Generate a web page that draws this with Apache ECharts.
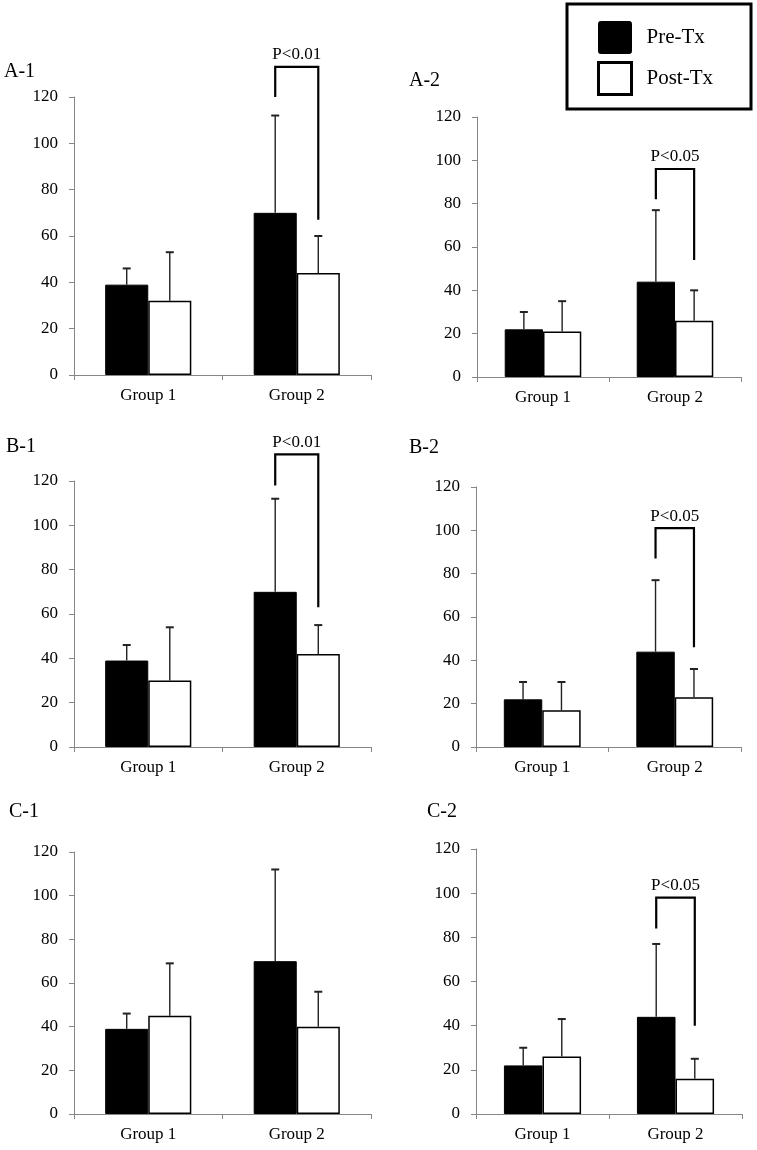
<!DOCTYPE html>
<html><head><meta charset="utf-8">
<script src="https://cdn.jsdelivr.net/npm/echarts@6/dist/echarts.min.js"></script>
<style>html,body{margin:0;padding:0;background:#fff}#c{width:757px;height:1150px}</style>
</head><body><div id="c"></div>
<script>
// ---- data ----
const categories = ['Group 1', 'Group 2'];
const seriesNames = ['Pre-Tx', 'Post-Tx'];
const panelLabels = ['A-1', 'A-2', 'B-1', 'B-2', 'C-1', 'C-2'];
const yMin = 0, yMax = 120, yStep = 20;

const preA1 = [39, 70],  preA1Top = [46, 112],  postA1 = [32, 44], postA1Top = [53, 60];
const preA2 = [22, 44],  preA2Top = [30, 77],   postA2 = [21, 26], postA2Top = [35, 40];
const preB1 = [39, 70],  preB1Top = [46, 112],  postB1 = [30, 42], postB1Top = [54, 55];
const preB2 = [22, 44],  preB2Top = [30, 77],   postB2 = [17, 23], postB2Top = [30, 36];
const preC1 = [39, 70],  preC1Top = [46, 112],  postC1 = [45, 40], postC1Top = [69, 56];
const preC2 = [22, 44],  preC2Top = [30, 77],   postC2 = [26, 16], postC2Top = [43, 25];

// significance brackets: [category index, left foot, right foot, top, label]
const sigA1 = [1, 120, 67, 133, 'P<0.01'];
const sigA2 = [1, 82, 54, 96, 'P<0.05'];
const sigB1 = [1, 118, 63, 132, 'P<0.01'];
const sigB2 = [1, 87, 46, 101, 'P<0.05'];
const sigC1 = null;
const sigC2 = [1, 84, 40, 98, 'P<0.05'];

const panelData = [
  [preA1, preA1Top, postA1, postA1Top, sigA1],
  [preA2, preA2Top, postA2, postA2Top, sigA2],
  [preB1, preB1Top, postB1, postB1Top, sigB1],
  [preB2, preB2Top, postB2, postB2Top, sigB2],
  [preC1, preC1Top, postC1, postC1Top, sigC1],
  [preC2, preC2Top, postC2, postC2Top, sigC2]
];

// ---- layout ----
const layouts = [
  {left: 74,  top: 97,  width: 297, height: 278, tl: 4,   tt: 62},
  {left: 477, top: 117, width: 264, height: 260, tl: 409, tt: 71},
  {left: 74,  top: 481, width: 297, height: 266, tl: 6,   tt: 437},
  {left: 476, top: 487, width: 265, height: 260, tl: 409, tt: 438},
  {left: 74,  top: 852, width: 297, height: 262, tl: 9,   tt: 802},
  {left: 476, top: 849, width: 266, height: 265, tl: 427, tt: 802}
];

const FONT = '"Liberation Serif", "Times New Roman", serif';
const BAR_FRAC = 0.29;

function errRender(side) {
  return function (params, api) {
    const cat = api.value(0), v = api.value(1), top = api.value(2);
    const band = api.size([1, 0])[0];
    const off = (side === 0 ? -1 : 1) * band * BAR_FRAC / 2;
    const p0 = api.coord([cat, v]);
    const p1 = api.coord([cat, top]);
    const x = p0[0] + off;
    return {
      type: 'group',
      children: [
        {type: 'line', shape: {x1: x, y1: p0[1], x2: x, y2: p1[1]}, style: {stroke: '#222', lineWidth: 1.4}},
        {type: 'line', shape: {x1: x - 4, y1: p1[1], x2: x + 4, y2: p1[1]}, style: {stroke: '#222', lineWidth: 2}}
      ]
    };
  };
}

function sigRender(params, api) {
  const cat = api.value(0);
  const band = api.size([1, 0])[0];
  const off = band * BAR_FRAC / 2;
  const c = api.coord([cat, 0]);
  const xl = c[0] - off, xr = c[0] + off;
  const yl = api.coord([cat, api.value(1)])[1];
  const yr = api.coord([cat, api.value(2)])[1];
  const yt = api.coord([cat, api.value(3)])[1];
  return {
    type: 'group',
    children: [
      {type: 'polyline', shape: {points: [[xl, yl], [xl, yt], [xr, yt], [xr, yr]]},
       style: {stroke: '#000', lineWidth: 2.2, fill: null}},
      {type: 'text', style: {text: api.value(4), x: (xl + xr) / 2, y: yt - 12, align: 'center',
        verticalAlign: 'middle', fontSize: 17, fontFamily: FONT, fill: '#000'}}
    ]
  };
}

const grid = [], xAxis = [], yAxis = [], series = [], title = [];
layouts.forEach(function (L, i) {
  grid.push({left: L.left, top: L.top, width: L.width, height: L.height, containLabel: false});
  title.push({text: panelLabels[i], left: L.tl, top: L.tt, padding: 0,
    textStyle: {fontFamily: FONT, fontSize: 20, fontWeight: 'normal', color: '#000'}});
  xAxis.push({type: 'category', gridIndex: i, data: categories,
    axisLine: {lineStyle: {color: '#868686', width: 1}},
    axisTick: {show: true, length: 5, lineStyle: {color: '#868686'}},
    axisLabel: {fontFamily: FONT, fontSize: 17, color: '#000', margin: 12},
    splitLine: {show: false}});
  yAxis.push({type: 'value', gridIndex: i, min: yMin, max: yMax, interval: yStep,
    axisLine: {show: true, lineStyle: {color: '#868686', width: 1}},
    axisTick: {show: true, length: 5, lineStyle: {color: '#868686'}},
    axisLabel: {fontFamily: FONT, fontSize: 17, color: '#000', margin: 16},
    splitLine: {show: false}});
  const d = panelData[i];
  series.push({type: 'bar', name: seriesNames[0], xAxisIndex: i, yAxisIndex: i, data: d[0],
    barWidth: (BAR_FRAC * 100) + '%', barGap: '0%',
    itemStyle: {color: '#000', borderColor: '#000', borderWidth: 1}, silent: true, z: 2});
  series.push({type: 'bar', name: seriesNames[1], xAxisIndex: i, yAxisIndex: i, data: d[2],
    barWidth: (BAR_FRAC * 100) + '%', barGap: '0%',
    itemStyle: {color: '#fff', borderColor: '#000', borderWidth: 1.5}, silent: true, z: 2});
  series.push({type: 'custom', xAxisIndex: i, yAxisIndex: i, renderItem: errRender(0), clip: false, z: 3,
    data: d[0].map(function (v, k) { return [k, v, d[1][k]]; }), silent: true});
  series.push({type: 'custom', xAxisIndex: i, yAxisIndex: i, renderItem: errRender(1), clip: false, z: 3,
    data: d[2].map(function (v, k) { return [k, v, d[3][k]]; }), silent: true});
  if (d[4]) {
    series.push({type: 'custom', xAxisIndex: i, yAxisIndex: i, renderItem: sigRender, clip: false, z: 4,
      data: [d[4]], silent: true});
  }
});

const chart = echarts.init(document.getElementById('c'), null, {renderer: 'canvas'});
chart.setOption({
  animation: false,
  backgroundColor: '#fff',
  title: title,
  legend: {
    orient: 'vertical', left: 567, top: 4, padding: [17, 38, 13, 30],
    itemWidth: 33, itemHeight: 32, itemGap: 7, borderColor: '#000', borderWidth: 3,
    selectedMode: false,
    textStyle: {fontFamily: FONT, fontSize: 21, color: '#000', padding: [0, 0, 0, 10]},
    data: [
      {name: seriesNames[0], icon: 'path://M2,0 L31,0 Q33,0 33,2 L33,30 Q33,32 31,32 L2,32 Q0,32 0,30 L0,2 Q0,0 2,0 Z', itemStyle: {color: '#000', borderColor: '#000', borderWidth: 1}},
      {name: seriesNames[1], icon: 'rect', itemStyle: {color: '#fff', borderColor: '#000', borderWidth: 3}}
    ]
  },
  grid: grid, xAxis: xAxis, yAxis: yAxis, series: series
});
</script></body></html>
